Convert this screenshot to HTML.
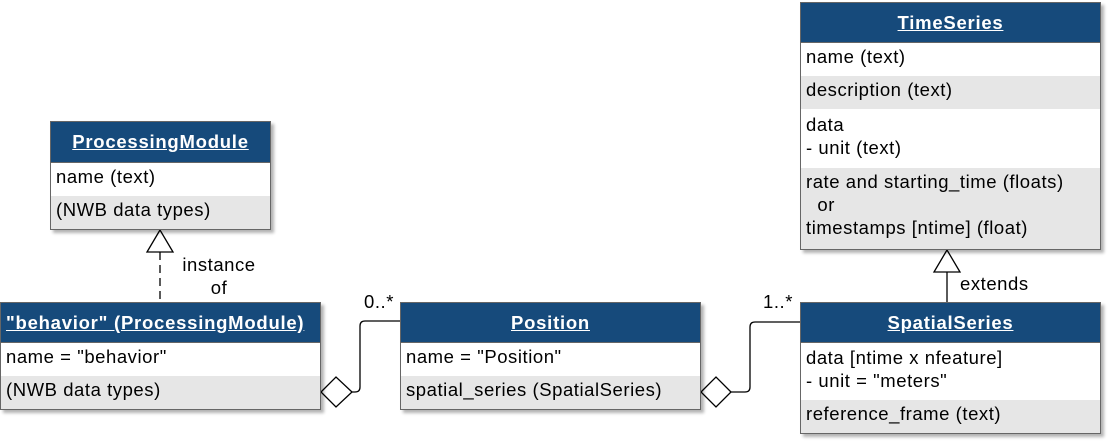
<!DOCTYPE html>
<html><head><style>
body{margin:0;width:1112px;height:445px;background:#fff;position:relative;font-family:"Liberation Sans",sans-serif;font-size:18.5px;letter-spacing:0.55px;color:#000;overflow:hidden}
.b{position:absolute;border:1px solid #666;box-shadow:3px 3px 3px rgba(0,0,0,.3);box-sizing:border-box;background:#fff}
.h{background:#164a7b;color:#fff;font-weight:bold;text-decoration:underline;text-align:center;box-sizing:border-box;border-bottom:1px solid #666;letter-spacing:0.75px}
.r{box-sizing:border-box;padding:2px 5px;line-height:23px;white-space:nowrap}
.g{background:#e6e6e6}
.t{position:absolute;line-height:23px;white-space:nowrap}
</style></head><body>
<svg style="position:absolute;left:0;top:0" width="1112" height="445">
<g fill="none" stroke="#000" stroke-width="1.3">
<line x1="160" y1="252" x2="160" y2="302" stroke-dasharray="8,5"/>
<polygon points="160,230 147,252 173,252" fill="#fff"/>
<line x1="947" y1="272" x2="947" y2="302"/>
<polygon points="947,250 934,272 960,272" fill="#fff"/>
<path d="M352,392 H355 Q360,392 360,387 V326 Q360,321 365,321 H400"/>
<polygon points="321,392 336,377 352,392 336,407" fill="#fff"/>
<path d="M731,392 H745 Q750,392 750,387 V327 Q750,322 755,322 H800"/>
<polygon points="701,392 716,377 731,392 716,407" fill="#fff"/>
</g></svg>
<div class="b" style="left:50px;top:121px;width:221px;height:109px">
<div class="h" style="height:41px;line-height:40px">ProcessingModule</div>
<div class="r" style="height:33px">name (text)</div>
<div class="r g" style="height:33px">(NWB data types)</div></div>
<div class="b" style="left:0;top:302px;width:321px;height:108px">
<div class="h" style="height:40px;line-height:40px;text-align:left;padding-left:5px">"behavior" (ProcessingModule)</div>
<div class="r" style="height:33px">name = "behavior"</div>
<div class="r g" style="height:33px">(NWB data types)</div></div>
<div class="b" style="left:400px;top:302px;width:301px;height:108px">
<div class="h" style="height:40px;line-height:40px">Position</div>
<div class="r" style="height:33px">name = "Position"</div>
<div class="r g" style="height:33px">spatial_series (SpatialSeries)</div></div>
<div class="b" style="left:800px;top:2px;width:301px;height:248px">
<div class="h" style="height:40px;line-height:40px">TimeSeries</div>
<div class="r" style="height:33px">name (text)</div>
<div class="r g" style="height:33px">description (text)</div>
<div class="r" style="height:59px;padding-top:4px">data<br>- unit (text)</div>
<div class="r g" style="height:81px;padding-top:2px">rate and starting_time (floats)<br>&nbsp; or<br>timestamps [ntime] (float)</div></div>
<div class="b" style="left:800px;top:302px;width:301px;height:132px">
<div class="h" style="height:40px;line-height:40px">SpatialSeries</div>
<div class="r" style="height:57px;padding-top:3px">data [ntime x nfeature]<br>- unit = "meters"</div>
<div class="r g" style="height:33px">reference_frame (text)</div></div>
<div class="t" style="left:178px;top:253px;text-align:center;width:82px">instance<br>of</div>
<div class="t" style="left:364px;top:290px">0..*</div>
<div class="t" style="left:763px;top:290px">1..*</div>
<div class="t" style="left:960px;top:272px">extends</div>
</body></html>
